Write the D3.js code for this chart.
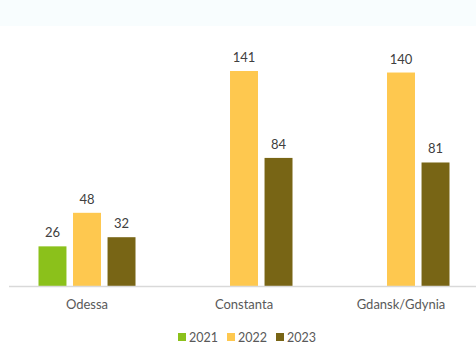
<!DOCTYPE html>
<html>
<head>
<meta charset="utf-8">
<script src="https://cdn.jsdelivr.net/npm/d3@7"></script>
<style>
  body { margin: 0; background: #fff; }
  svg { display: block; font-family: Lato, "Open Sans", sans-serif; }
</style>
</head>
<body>
<div id="plot"></div>
<script>
const ports = ['Odessa', 'Constanta', 'Gdansk/Gdynia']
const years = ['2021', '2022', '2023']
const v2021 = [26, null, null]
const v2022 = [48, 141, 140]
const v2023 = [32, 84, 81]
const colors = ['#8bc11b', '#fec84f', '#786515']

const width = 476
const height = 345
const series = [v2021, v2022, v2023]

const svg = d3.select('#plot')
  .append('svg')
  .attr('width', width)
  .attr('height', height)

svg.append('rect')
  .attr('width', width)
  .attr('height', 26)
  .attr('fill', '#f8fdfe')

const baseY = 286

const x = d3.scaleBand()
  .domain(ports)
  .range([8.5, 479.5])

const xInner = d3.scaleBand()
  .domain(years)
  .range([30, x.bandwidth() - 30])
  .paddingInner(0.19)

const y = d3.scaleLinear()
  .domain([0, 141])
  .range([baseY, 71])

const rows = []
ports.forEach((p, i) => {
  years.forEach((yr, j) => {
    const v = series[j][i]
    if (v != null) rows.push({ port: p, year: yr, value: v, color: colors[j] })
  })
})

// bars
svg.selectAll('rect.bar')
  .data(rows)
  .enter()
  .append('rect')
  .attr('class', 'bar')
  .attr('x', d => x(d.port) + xInner(d.year))
  .attr('y', d => y(d.value))
  .attr('width', xInner.bandwidth())
  .attr('height', d => baseY - y(d.value))
  .attr('fill', d => d.color)

// value labels
svg.selectAll('text.val')
  .data(rows)
  .enter()
  .append('text')
  .attr('class', 'val')
  .attr('x', d => x(d.port) + xInner(d.year) + xInner.bandwidth() / 2)
  .attr('y', d => y(d.value) - 9)
  .attr('text-anchor', 'middle')
  .attr('font-size', 13)
  .attr('fill', '#404040')
  .text(d => d.value)

// x axis
const axis = svg.append('g')
  .attr('transform', 'translate(0,' + baseY + ')')
  .call(d3.axisBottom(x).tickSize(0).tickPadding(14))
axis.select('.domain').attr('stroke', '#d9d9d9').attr('stroke-width', 1.5)
axis.selectAll('text')
  .attr('font-size', 13)
  .attr('fill', '#595959')
  .attr('font-family', 'Lato, sans-serif')

// legend
const legend = svg.append('g')
  .selectAll('g')
  .data(years)
  .enter()
  .append('g')
  .attr('transform', (d, i) => 'translate(' + (178 + i * 49) + ',333)')
legend.append('rect')
  .attr('width', 8)
  .attr('height', 8)
  .attr('fill', (d, i) => colors[i])
legend.append('text')
  .attr('x', 11)
  .attr('y', 8.5)
  .attr('font-size', 12.5)
  .attr('fill', '#595959')
  .text(d => d)
</script>
</body>
</html>
